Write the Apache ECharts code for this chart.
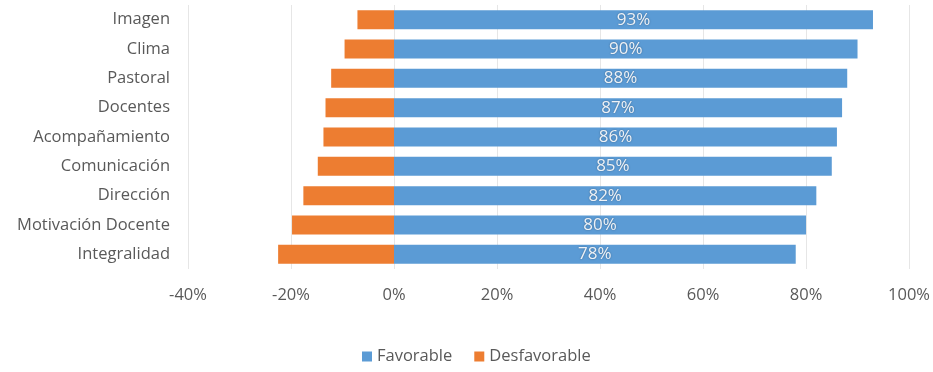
<!DOCTYPE html>
<html>
<head>
<meta charset="utf-8">
<script src="https://cdn.jsdelivr.net/npm/echarts@6/dist/echarts.min.js"></script>
<style>
  html, body { margin: 0; padding: 0; background: #ffffff; }
  #chart { width: 933px; height: 372px; }
</style>
</head>
<body>
<div id="chart"></div>
<script>
// Dimensions, top to bottom
const categories = ['Imagen', 'Clima', 'Pastoral', 'Docentes', 'Acompañamiento',
  'Comunicación', 'Dirección', 'Motivación Docente', 'Integralidad'];

// Share of favourable answers (%)
const favorable = [93, 90, 88, 87, 86, 85, 82, 80, 78];

// Share of unfavourable answers (%), drawn to the left of zero
const desfavorable = [-7.1, -9.6, -12.2, -13.3, -13.7, -14.8, -17.6, -19.8, -22.5];

const xTicks = { min: -40, max: 100, step: 20 };

const FONT = '"Open Sans", "Liberation Sans", sans-serif';
const TEXT = '#595959';

const chart = echarts.init(document.getElementById('chart'), null, { renderer: 'canvas' });

chart.setOption({
  animation: false,
  backgroundColor: '#ffffff',
  grid: { left: 188, right: 23, top: 5, bottom: 103, containLabel: false },
  legend: {
    bottom: 2,
    left: 357,
    itemWidth: 10,
    itemHeight: 10,
    itemGap: 22,
    icon: 'rect',
    textStyle: { color: TEXT, fontFamily: FONT, fontSize: 16.5 },
    data: ['Favorable', 'Desfavorable']
  },
  xAxis: {
    type: 'value',
    min: xTicks.min,
    max: xTicks.max,
    interval: xTicks.step,
    axisLine: { show: false },
    axisTick: { show: false },
    splitLine: { show: true, lineStyle: { color: '#e6e6e6', width: 1 } },
    axisLabel: {
      color: TEXT, fontFamily: FONT, fontSize: 16.5, margin: 18,
      formatter: v => v + '%'
    }
  },
  yAxis: {
    type: 'category',
    data: categories,
    inverse: true,
    axisLine: { show: false },
    axisTick: { show: false },
    axisLabel: { color: TEXT, fontFamily: FONT, fontSize: 16.5, margin: 18 }
  },
  series: [
    {
      name: 'Favorable',
      type: 'bar',
      stack: 'total',
      data: favorable,
      barWidth: 19,
      itemStyle: { color: '#5B9BD5' },
      label: {
        show: true,
        position: 'inside',
        color: '#eef2f7',
        fontFamily: FONT,
        fontSize: 17,
        textShadowColor: 'rgba(0,0,0,0.35)',
        textShadowBlur: 2,
        formatter: p => p.value + '%'
      }
    },
    {
      name: 'Desfavorable',
      type: 'bar',
      stack: 'total',
      data: desfavorable,
      barWidth: 19,
      itemStyle: { color: '#ED7D31' }
    }
  ]
});
</script>
</body>
</html>
